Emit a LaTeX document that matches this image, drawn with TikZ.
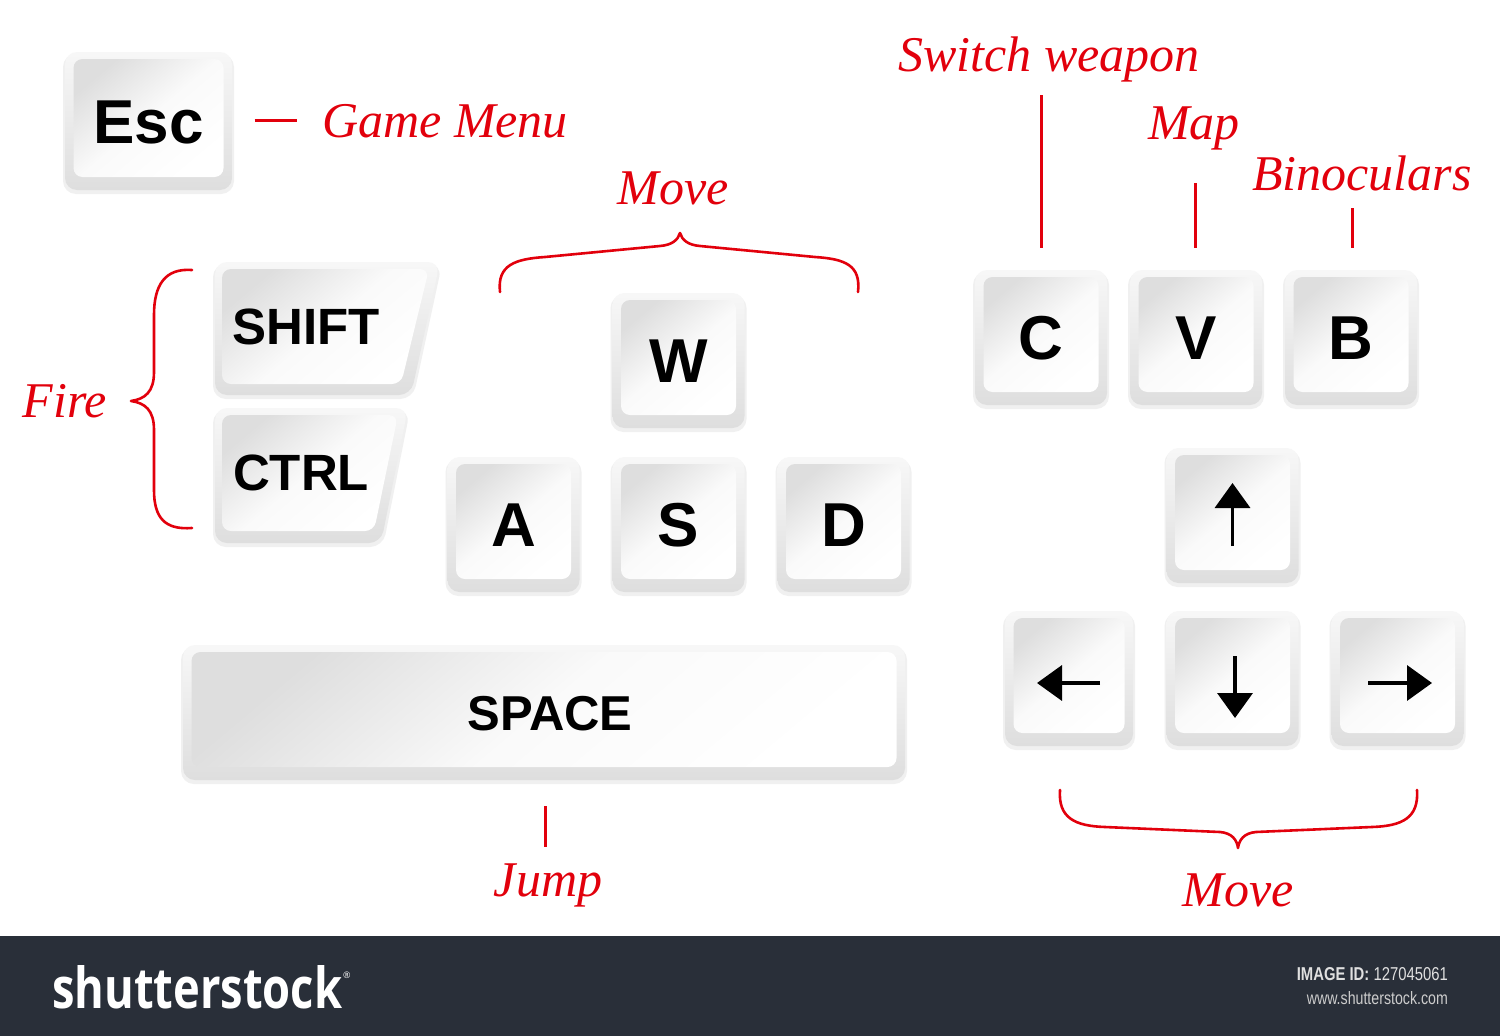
\documentclass[tikz,border=0pt]{standalone}
\usepackage{fontspec}
\setmainfont{Liberation Serif}
\newfontfamily\keyfont{Liberation Sans}
\newfontfamily\logofont{Open Sans}
\usetikzlibrary{arrows.meta}
\definecolor{lblred}{RGB}{226,0,12}
\definecolor{barbg}{RGB}{41,47,57}
\tikzset{
  redline/.style={lblred, line width=3pt},
  redbrace/.style={lblred, line width=2.6pt, line cap=round, line join=round},
  lbl/.style={lblred, font=\itshape\fontsize{50}{50}\selectfont, inner sep=0pt, anchor=base},
  keyface/.style={rectangle, rounded corners=9pt, top color=black!13, bottom color=white, middle color=black!2, shading angle=40, inner sep=0pt, font=\keyfont\bfseries\fontsize{62}{62}\selectfont},
  keyfaceshade/.style={rounded corners=9pt, top color=black!13, bottom color=white, middle color=black!2, shading angle=40},
  keybase/.style={rounded corners=12pt, top color=black!3, bottom color=black!13},
  keyshadow/.style={rounded corners=13pt, fill=black!6},
  keytext/.style={inner sep=0pt, font=\keyfont\bfseries\fontsize{51}{51}\selectfont},
  arrowglyph/.style={line width=3.6pt, -{Triangle[width=35pt,length=25pt]}},
}
\newcommand\rkey[6]{%
  \pgfmathsetmacro\kxa{#2-#4/2}\pgfmathsetmacro\kxb{#2+#4/2}%
  \pgfmathsetmacro\kya{#3-#5/2}\pgfmathsetmacro\kyb{#3+#5/2}%
  \pgfmathsetmacro\kfw{#4-17}\pgfmathsetmacro\kfh{#5-20}%
  \pgfmathsetmacro\kfy{#3-3}%
  \fill[keyshadow] (\kxa-2,\kya+2) rectangle (\kxb+2,\kyb+4);
  \shade[keybase] (\kxa,\kya) rectangle (\kxb,\kyb);
  \node[keyface, minimum width=\kfw pt, minimum height=\kfh pt] (#1) at (#2,\kfy) {\raisebox{-4pt}[\height][\depth]{#6}};
}
\begin{document}
\begin{tikzpicture}[x=1pt, y=-1pt]
\useasboundingbox (0,0) rectangle (1500,1036);
\fill[white] (0,0) rectangle (1500,1036);

% ---------- keys ----------
\rkey{esc}{148.5}{121}{167}{138}{Esc}
\rkey{W}{678.5}{360.5}{132}{135}{W}
\rkey{A}{513.5}{524.5}{132}{135}{A}
\rkey{S}{678.5}{524.5}{132}{135}{S}
\rkey{D}{843.5}{524.5}{132}{135}{D}
\rkey{space}{544}{712.5}{722}{135}{\hspace*{12pt}\fontsize{49}{49}\selectfont SPACE}
\rkey{C}{1041}{337.5}{132}{135}{C}
\rkey{V}{1196}{337.5}{132}{135}{V}
\rkey{B}{1351}{337.5}{132}{135}{B}
\rkey{up}{1232.5}{515.5}{132}{135}{}
\rkey{left}{1069}{678.5}{128}{135}{}
\rkey{down}{1232.5}{678.5}{132}{135}{}
\rkey{right}{1397.5}{678.5}{132}{135}{}

% slanted SHIFT and CTRL keys
\fill[keyshadow] (213,264) -- (442,264) -- (413,399) -- (213,399) -- cycle;
\shade[keybase] (215,262) -- (440,262) -- (411,395) -- (215,395) -- cycle;
\shade[keyfaceshade] (222,269) -- (429,269) -- (401,384) -- (222,384) -- cycle;
\node[keytext] (shift) at (306,327) {SHIFT};

\fill[keyshadow] (213,410) -- (410,410) -- (383,547) -- (213,547) -- cycle;
\shade[keybase] (215,408) -- (408,408) -- (381,543) -- (215,543) -- cycle;
\shade[keyfaceshade] (222,415) -- (398,415) -- (374,531) -- (222,531) -- cycle;
\node[keytext] (ctrl) at (301,473) {CTRL};

% arrow glyphs
\draw[arrowglyph] ([yshift=-33.5pt]up.center) -- ([yshift=29.5pt]up.center);
\draw[arrowglyph] ([xshift=31pt,yshift=-7.5pt]left.center) -- ([xshift=-32pt,yshift=-7.5pt]left.center);
\draw[arrowglyph] ([xshift=2.5pt,yshift=19.5pt]down.center) -- ([xshift=2.5pt,yshift=-42.5pt]down.center);
\draw[arrowglyph] ([xshift=-29.5pt,yshift=-7.5pt]right.center) -- ([xshift=34.5pt,yshift=-7.5pt]right.center);

% ---------- labels ----------
\node[lbl, anchor=base west] (gm) at (322,137) {Game Menu};
\node[lbl] (movetop) at (673,204) {Move};
\node[lbl] (fire) at (65,417) {Fire};
\node[lbl] (sw) at (1049,71) {Switch weapon};
\node[lbl] (map) at (1194,139) {Map};
\node[lbl] (bino) at (1362,190) {Binoculars};
\node[lbl] (jump) at (548,896) {Jump};
\node[lbl] (movebot) at (1238,906) {Move};

% connectors
\coordinate (gmdash) at (297,120);
\draw[redline] (esc.east |- gmdash) ++(31,0) -- (gmdash);
\coordinate (swend) at (1041,95);
\draw[redline] (swend) -- ([yshift=29pt]C.north);
\coordinate (mapend) at (1195,183);
\draw[redline] (mapend) -- ([xshift=-1pt,yshift=29pt]V.north);
\coordinate (binoend) at (1352,208);
\draw[redline] (binoend) -- ([xshift=1pt,yshift=29pt]B.north);
\coordinate (jumpend) at (545,847);
\draw[redline] ([xshift=1pt,yshift=-39pt]space.south) -- (jumpend);

% braces
\draw[redbrace] (192,270) .. controls (165,268) and (154,285) .. (154,315) -- (154,372)
  .. controls (154,392) and (145,399) .. (131,401) .. controls (145,403) and (154,410) .. (154,430)
  -- (154,490) .. controls (154,518) and (165,530) .. (192,528);
\draw[redbrace] (500,292) .. controls (497,265) and (515,259) .. (545,257) -- (660,246)
  .. controls (672,245) and (678,240) .. (680,233) .. controls (682,240) and (688,245) .. (700,246)
  -- (815,257) .. controls (845,259) and (861,265) .. (858,292);
\draw[redbrace] (1060,790) .. controls (1058,818) and (1075,826) .. (1105,827) -- (1220,832)
  .. controls (1232,833) and (1237,840) .. (1238,848) .. controls (1239,840) and (1244,833) .. (1256,832)
  -- (1372,827) .. controls (1402,826) and (1419,818) .. (1417,790);

% ---------- bottom bar ----------
\fill[barbg] (0,936) rectangle (1500,1036);
\node[anchor=base west, inner sep=0pt, text=white] (logo) at (52,1008)
  {\resizebox{290pt}{43pt}{\logofont\bfseries shutterstock}};
\node[anchor=base west, inner sep=0pt, text=white, font=\logofont\fontsize{9}{9}\selectfont] (reg) at (343,978) {\textregistered};
\node[anchor=base east, inner sep=0pt, text=black!12] (imgid) at (1448,980)
  {\resizebox{151pt}{13pt}{\keyfont\textbf{IMAGE ID:} 127045061}};
\node[anchor=base east, inner sep=0pt, text=black!20] (www) at (1448,1004)
  {\resizebox{141pt}{13pt}{\keyfont www.shutterstock.com}};
\end{tikzpicture}
\end{document}
